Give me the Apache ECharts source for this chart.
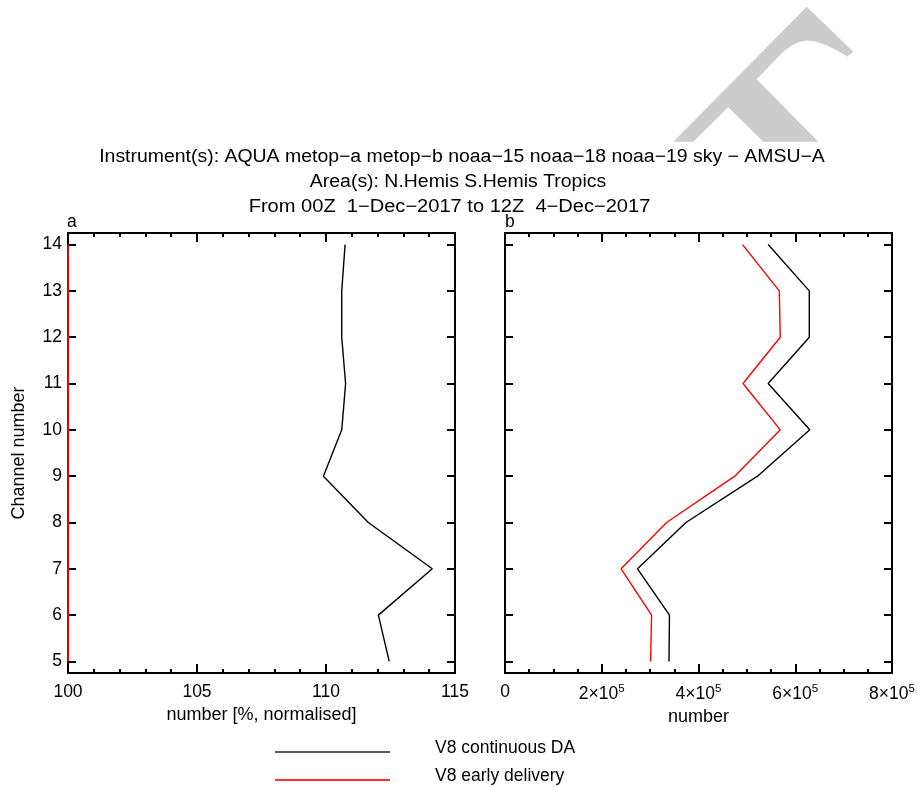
<!DOCTYPE html>
<html>
<head>
<meta charset="utf-8">
<script src="https://cdn.jsdelivr.net/npm/echarts@6/dist/echarts.min.js"></script>
<style>html,body{margin:0;padding:0;background:#fff}#c{width:920px;height:787px}</style>
</head>
<body>
<div id="c"></div>
<script>
// ---- data ----
const channels = [5, 6, 7, 8, 9, 10, 11, 12, 13, 14];
const pctContinuous = [112.45, 112.03, 114.12, 111.64, 109.90, 110.61, 110.76, 110.61, 110.61, 110.74];
const pctEarly = [100, 100, 100, 100, 100, 100, 100, 100, 100, 100];
const numContinuous = [3.39e5, 3.40e5, 2.74e5, 3.74e5, 5.22e5, 6.30e5, 5.44e5, 6.29e5, 6.29e5, 5.44e5];
const numEarly = [3.01e5, 3.03e5, 2.40e5, 3.34e5, 4.75e5, 5.69e5, 4.92e5, 5.69e5, 5.67e5, 4.91e5];
const pctTicks = [100, 105, 110, 115];
const numTicks = [0, 2e5, 4e5, 6e5, 8e5];
const titleLines = [
  'Instrument(s): AQUA metop\u2212a metop\u2212b noaa\u221215 noaa\u221218 noaa\u221219 sky \u2212 AMSU\u2212A',
  'Area(s): N.Hemis S.Hemis Tropics',
  'From 00Z  1\u2212Dec\u22122017 to 12Z  4\u2212Dec\u22122017'
];
const seriesNames = ['V8 continuous DA', 'V8 early delivery'];
const panelLabels = ['a', 'b'];

const FONT = 'Liberation Sans';
const FS = 17.5;
const chart = echarts.init(document.getElementById('c'), null, {renderer: 'canvas'});

const axisLine = {show: true, onZero: false, lineStyle: {color: '#000', width: 2}};
function xAx(grid, pos, ticks, minorSplit, labels, name, fmt) {
  return {
    type: 'value', gridIndex: grid, position: pos,
    min: ticks[0], max: ticks[ticks.length - 1], interval: ticks[1] - ticks[0],
    axisLine: axisLine,
    axisTick: {show: true, inside: true, length: 9, lineStyle: {color: '#000', width: 2}},
    minorTick: {show: true, splitNumber: minorSplit, length: 4, lineStyle: {color: '#000', width: 2}},
    splitLine: {show: false}, minorSplitLine: {show: false},
    axisLabel: {show: labels, color: '#000', fontFamily: FONT, fontSize: FS, margin: 10,
      formatter: fmt, rich: {
        m: {fontFamily: FONT, fontSize: FS, color: '#000', verticalAlign: 'bottom', lineHeight: 20},
        s: {fontFamily: FONT, fontSize: 11.5, color: '#000', verticalAlign: 'top', lineHeight: 20, padding: [0, 0, 8, 0]}
      }},
    name: labels ? name : '', nameLocation: 'middle', nameGap: 30,
    nameTextStyle: {color: '#000', fontFamily: FONT, fontSize: 18}
  };
}
function yAx(grid, pos, labels, name) {
  return {
    type: 'value', gridIndex: grid, position: pos, min: 4.75, max: 14.25,
    axisLine: axisLine,
    axisTick: {show: true, inside: true, length: 8, customValues: channels, lineStyle: {color: '#000', width: 2}},
    splitLine: {show: false},
    axisLabel: {show: labels, customValues: channels, color: '#000', fontFamily: FONT, fontSize: FS, margin: 6},
    name: name, nameLocation: 'middle', nameGap: 40, nameRotate: 90,
    nameTextStyle: {color: '#000', fontFamily: FONT, fontSize: 18}
  };
}
function sciFmt(v) {
  if (v === 0) return '0';
  const e = Math.floor(Math.log10(v) + 1e-9);
  const m = Math.round(v / Math.pow(10, e));
  return '{m|' + m + '\u00d710}{s|' + e + '}';
}
const pts = (vals) => channels.map((c, i) => [vals[i], c]);
// legend icon: a bar sitting in the lower part of a 115x18 box
const barIcon = (h) => 'path://M0,0 L115,0 L0,0 Z M0,' + (13 - h / 2) + ' L115,' + (13 - h / 2) +
  ' L115,' + (13 + h / 2) + ' L0,' + (13 + h / 2) + ' Z M0,18 L115,18 L0,18 Z';

const titleX = [462, 458, 449.5];
const titleScale = [1.08, 1.08, 1.115];

const option = {
  animation: false,
  backgroundColor: '#fff',
  title: panelLabels.map((t, i) => ({
    text: t, left: i === 0 ? 62 : 500, top: 208, padding: 5,
    textStyle: {fontFamily: FONT, fontSize: FS, fontWeight: 'normal', color: '#000'}
  })),
  grid: [
    {left: 68, top: 233, width: 387, height: 440},
    {left: 505, top: 233, width: 387, height: 440}
  ],
  xAxis: [
    xAx(0, 'bottom', pctTicks, 5, true, 'number [%, normalised]'),
    xAx(0, 'top', pctTicks, 5, false, ''),
    xAx(1, 'bottom', numTicks, 4, true, 'number', sciFmt),
    xAx(1, 'top', numTicks, 4, false, '')
  ],
  yAxis: [
    yAx(0, 'left', true, 'Channel number'),
    yAx(0, 'right', false, ''),
    yAx(1, 'left', false, ''),
    yAx(1, 'right', false, '')
  ],
  legend: {
    orient: 'vertical', left: 275, top: 739, height: 80, padding: 0,
    itemWidth: 115, itemHeight: 18, itemGap: 10,
    data: [
      {name: seriesNames[0], icon: barIcon(1.5), itemStyle: {color: '#222'}},
      {name: seriesNames[1], icon: barIcon(2.2), itemStyle: {color: '#ff3030'}}
    ],
    textStyle: {fontFamily: FONT, fontSize: FS, color: '#000', padding: [0, 0, 0, 40]}
  },
  series: [
    {name: seriesNames[0], type: 'line', xAxisIndex: 0, yAxisIndex: 0, data: pts(pctContinuous),
      symbol: 'none', clip: false, color: '#000', lineStyle: {color: '#000', width: 1.4}, z: 5},
    {name: seriesNames[1], type: 'line', xAxisIndex: 0, yAxisIndex: 0, data: pts(pctEarly),
      symbol: 'none', clip: false, color: '#ff0000', lineStyle: {color: '#e00000', width: 2}, z: 6},
    {name: seriesNames[0], type: 'line', xAxisIndex: 2, yAxisIndex: 2, data: pts(numContinuous),
      symbol: 'none', clip: false, color: '#000', lineStyle: {color: '#000', width: 1.4}, z: 5},
    {name: seriesNames[1], type: 'line', xAxisIndex: 2, yAxisIndex: 2, data: pts(numEarly),
      symbol: 'none', clip: false, color: '#ff0000', lineStyle: {color: '#ff0000', width: 1.4}, z: 6}
  ],
  graphic: [{
    type: 'polygon', z: -10, silent: true,
    shape: {points: [
      [673.3, 141.7], [806.7, 6.7], [853.3, 51.7], [847.3, 56.5],
      [838, 51], [827, 45.5], [815, 41.5], [806.7, 40.5], [799, 42], [791, 46], [783, 52],
      [756.7, 79.3], [818.3, 141.7], [763.3, 141.7], [728.3, 107.3], [693.3, 141.7]
    ]},
    style: {fill: '#cccccc'}
  }].concat(titleLines.map((t, i) => ({
    type: 'text', x: titleX[i], y: 148 + i * 25, scaleX: titleScale[i], silent: true,
    style: {text: t, fontFamily: FONT, fontSize: 18, fill: '#000', align: 'center', verticalAlign: 'top'}
  })))
};
chart.setOption(option);
</script>
</body>
</html>
